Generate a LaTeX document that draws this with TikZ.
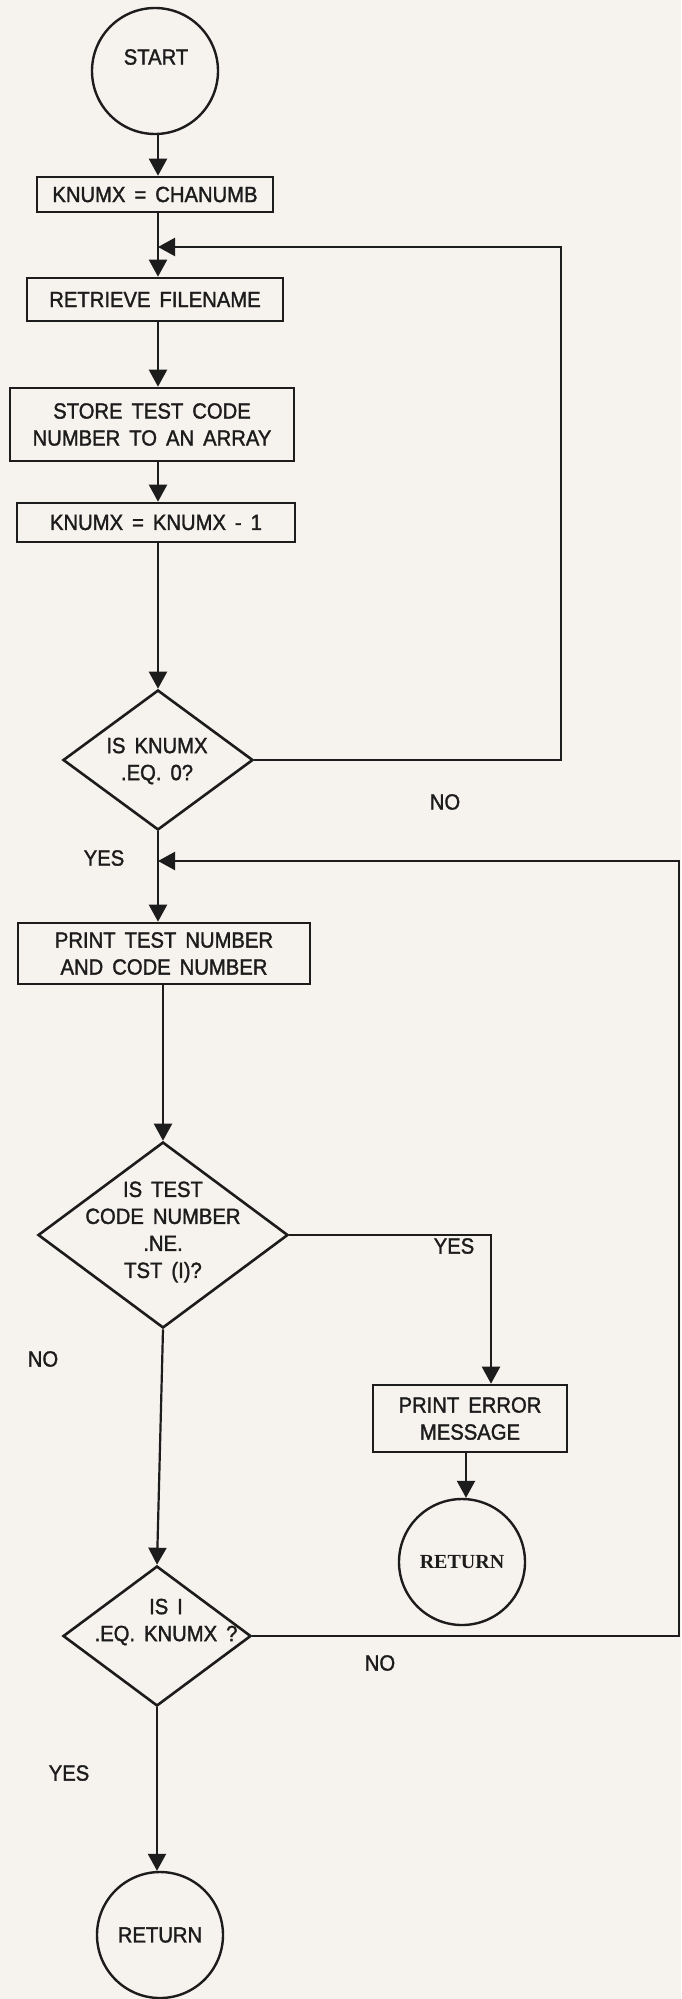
\documentclass[tikz,border=0pt]{standalone}
\usepackage{fontspec}
\setmainfont{Liberation Sans}[FakeStretch=0.92,WordSpace=1.6,FakeBold=1.5]
\newfontfamily\retfont{Liberation Serif}
\usetikzlibrary{shapes.geometric,arrows.meta}
\definecolor{paper}{RGB}{246,242,238}
\definecolor{ink}{RGB}{28,28,28}
\begin{document}
\begin{tikzpicture}[x=1pt,y=-1pt,
  base/.style={font=\fontsize{22}{27}\selectfont, text=ink},
  procbox/.style={draw=ink, line width=2.6pt, rectangle, inner sep=0pt, align=center, base},
  decbox/.style={draw=ink, line width=2.6pt, diamond, inner sep=0pt},
  termc/.style={draw=ink, line width=2.4pt, circle, inner sep=0pt, minimum size=126pt, base},
  lbl/.style={base, inner sep=0pt},
  arr/.style={draw=ink, line width=2.2pt, -{Triangle[length=17pt,width=18pt]}}]
\useasboundingbox (0,0) rectangle (681,1999);
\fill[paper] (0,0) rectangle (681,1999);
% column coordinates
\coordinate (cA) at (158,0);
\coordinate (j1) at (158,247);
\coordinate (r1c) at (561,247);
\coordinate (j2) at (158,861);
\coordinate (r2c) at (679,861);
\coordinate (cY) at (491,0);
\coordinate (cP) at (466,0);
% nodes
\node[termc] (start) at (155,71) {};
\node[lbl] (startt) at (156,57) {START};
\node[procbox, minimum width=236pt, minimum height=35pt] (k1) at (155,194.5) {KNUMX = CHANUMB};
\node[procbox, minimum width=256pt, minimum height=43pt] (rf) at (155,299.5) {RETRIEVE FILENAME};
\node[procbox, minimum width=284pt, minimum height=73pt] (st) at (152,424.5) {STORE TEST CODE\\NUMBER TO AN ARRAY};
\node[procbox, minimum width=278pt, minimum height=39pt] (k2) at (156,522.5) {KNUMX = KNUMX - 1};
\node[decbox, minimum width=190pt, minimum height=140pt] (d1) at (158,760) {};
\node[lbl, align=center] (d1t) at (157,761) {IS KNUMX\\.EQ. 0?};
\node[procbox, minimum width=292pt, minimum height=61pt] (pt) at (164,953.5) {PRINT TEST NUMBER\\AND CODE NUMBER};
\node[decbox, minimum width=250pt, minimum height=186pt] (d2) at (163,1235) {};
\node[lbl, align=center] (d2t) at (163,1232) {IS TEST\\CODE NUMBER\\.NE.\\TST (I)?};
\node[procbox, minimum width=194pt, minimum height=67pt] (pe) at (470,1418.5) {PRINT ERROR\\MESSAGE};
\node[termc, font=\retfont\bfseries\fontsize{20}{24}\selectfont] (r1) at (462,1562) {RETURN};
\node[decbox, minimum width=188pt, minimum height=140pt] (d3) at (157,1636) {};
\node[lbl, align=center] (d3t) at (166,1622) {IS I\\.EQ. KNUMX ?};
\node[termc] (r2) at (160,1935) {RETURN};
% branch labels
\node[lbl] (no1) at (445,802) {NO};
\node[lbl] (yes1) at (104,858) {YES};
\node[lbl] (yes2) at (454,1246) {YES};
\node[lbl] (no2) at (43,1359) {NO};
\node[lbl] (no3) at (380,1663) {NO};
\node[lbl] (yes3) at (69,1773) {YES};
% connectors
\draw[arr] (start.south -| cA) -- (k1.north -| cA);
\draw[arr] (k1.south -| cA) -- (rf.north -| cA);
\draw[arr] (rf.south -| cA) -- (st.north -| cA);
\draw[arr] (st.south -| cA) -- (k2.north -| cA);
\draw[arr] (k2.south -| cA) -- (d1.north);
\draw[arr] (d1.east) -| (r1c) -- (j1);
\draw[arr] (d1.south) -- (pt.north -| cA);
\draw[arr] (d3.east) -| (r2c) -- (j2);
\draw[arr] (pt.south -| d2.north) -- (d2.north);
\draw[arr] (d2.east) -| (pe.north -| cY);
\draw[arr] (pe.south -| cP) -- (r1.north -| cP);
\draw[arr] (d2.south) -- (d3.north);
\draw[arr] (d3.south) -- (r2.north -| d3.south);
\end{tikzpicture}
\end{document}
